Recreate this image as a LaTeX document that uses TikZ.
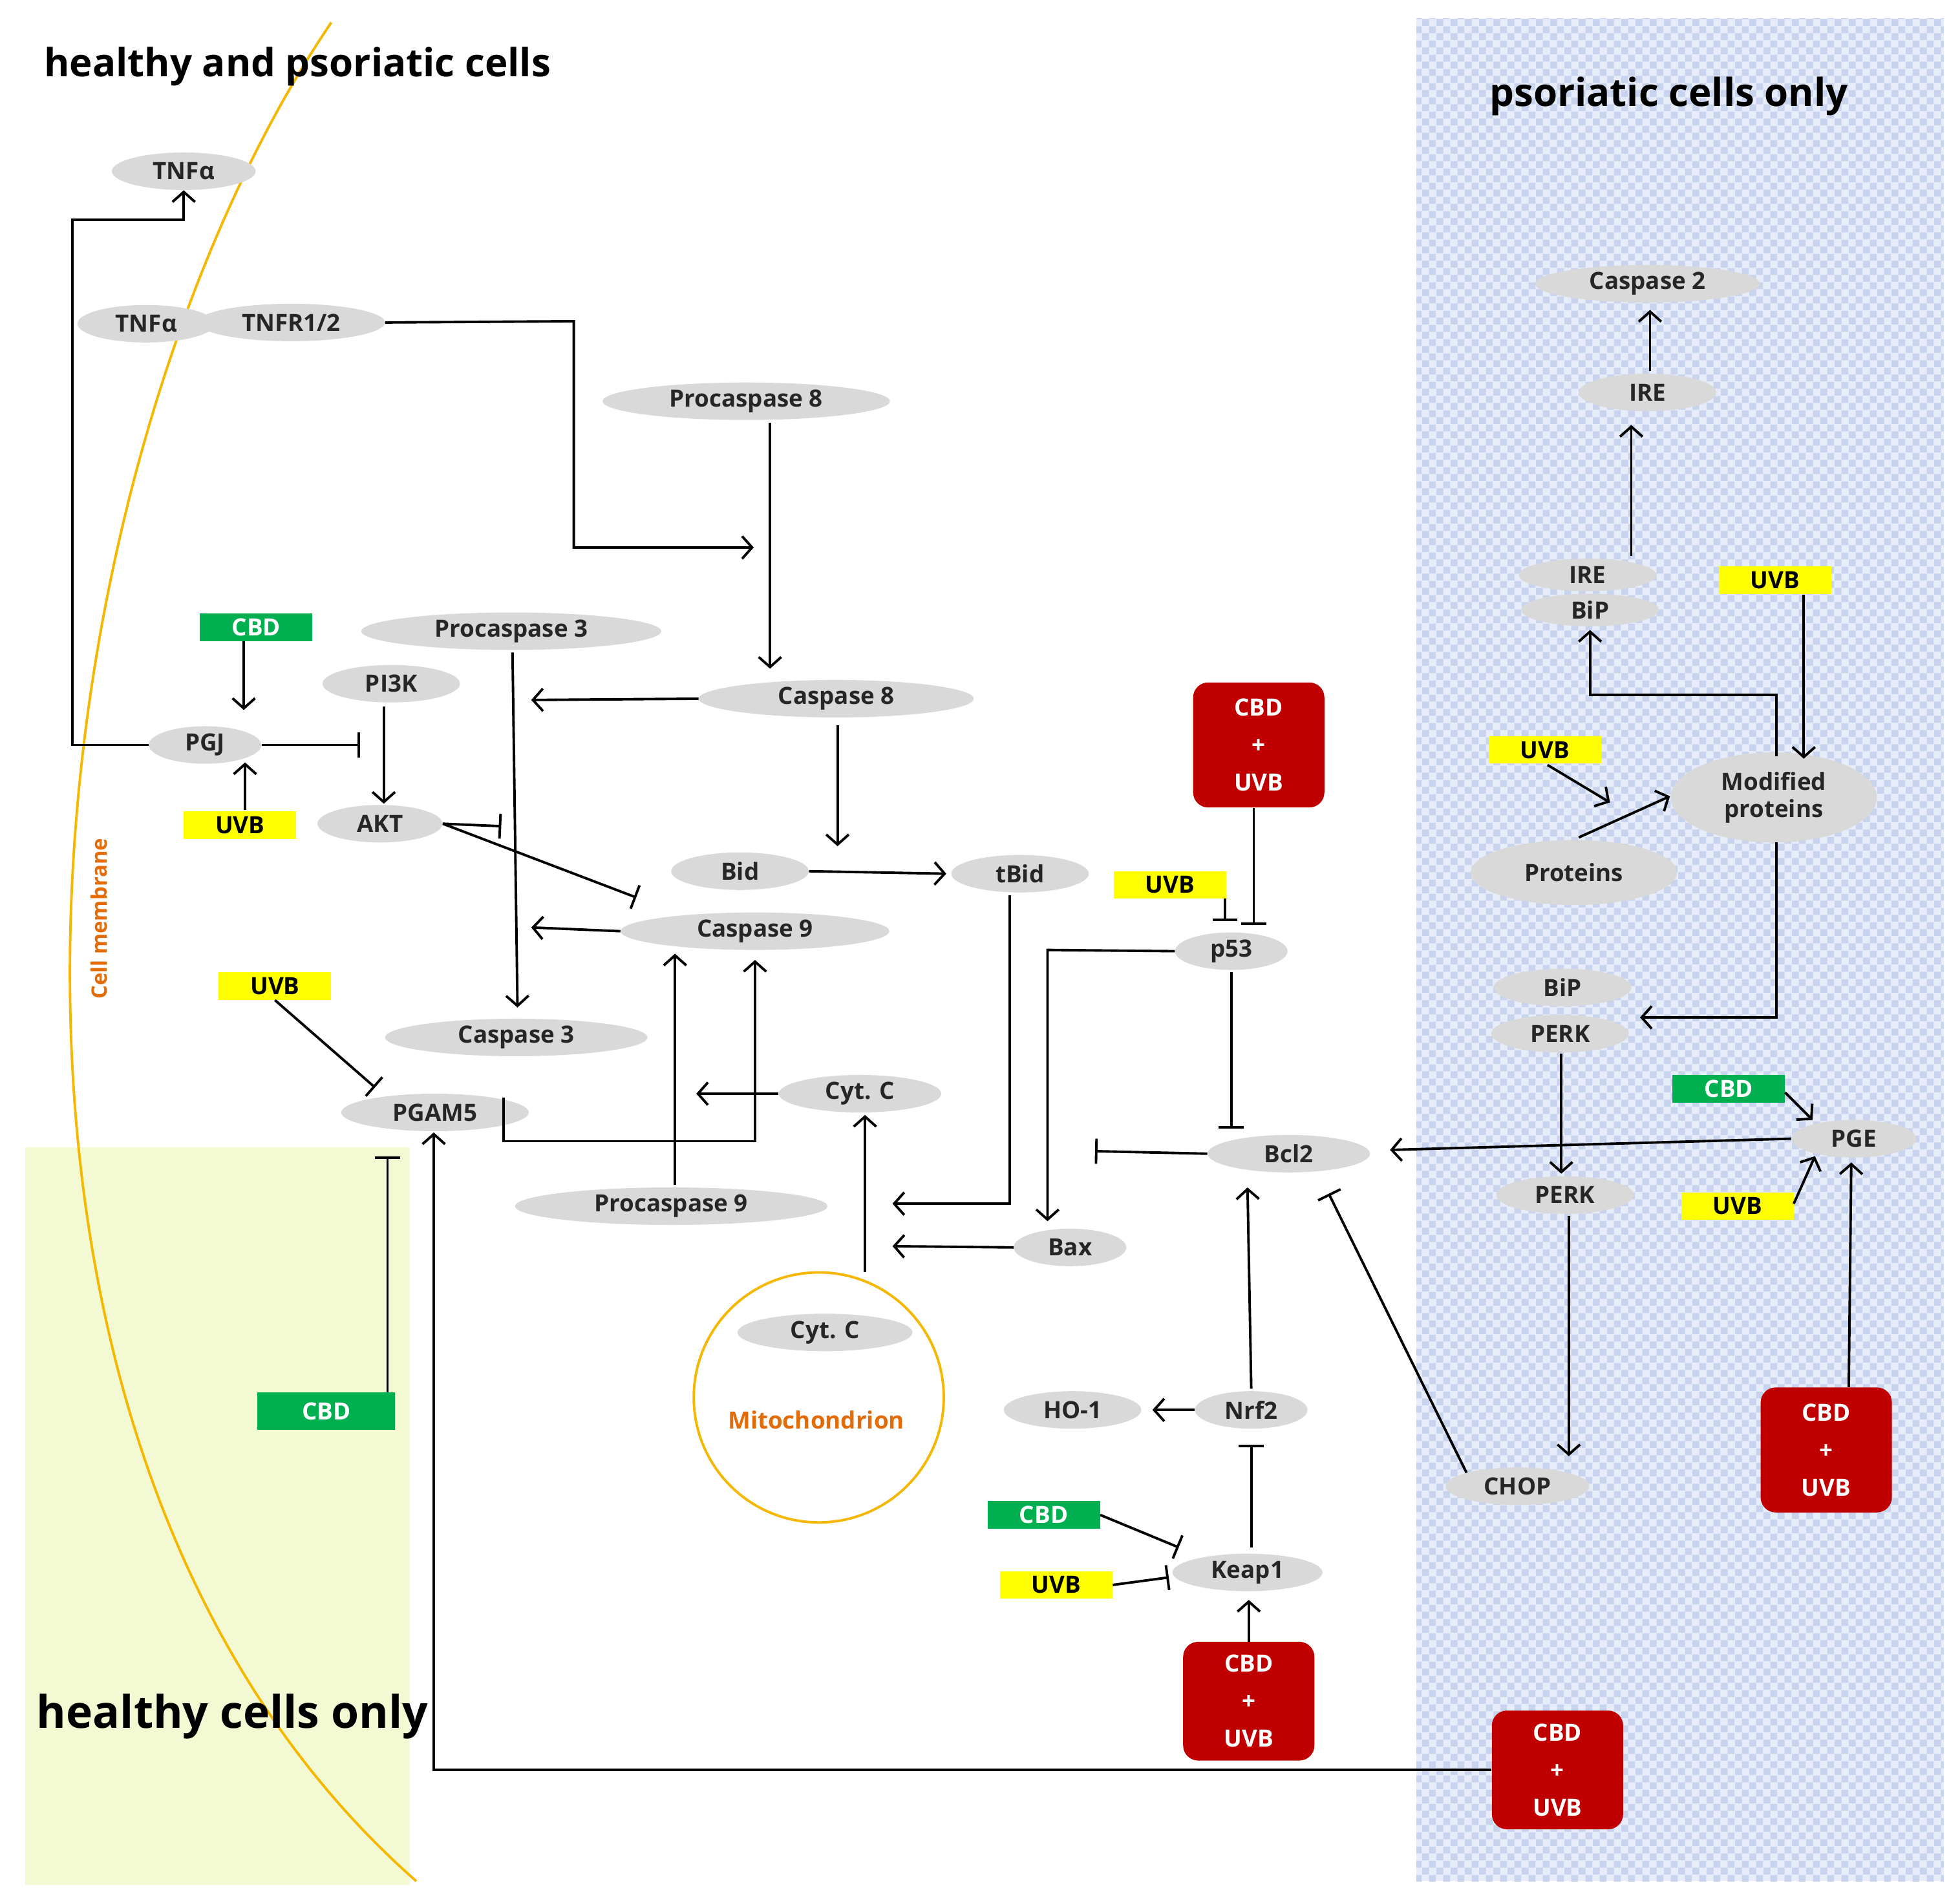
\documentclass[tikz,border=0pt]{standalone}
\usepackage{fontspec}
\setmainfont{Open Sans}
\usetikzlibrary{arrows.meta,shapes.geometric,patterns}
\definecolor{gr}{HTML}{D9D9D9}
\definecolor{rd}{HTML}{C00000}
\definecolor{gn}{HTML}{00B050}
\definecolor{yl}{HTML}{FFFF00}
\definecolor{org}{HTML}{E26B0A}
\definecolor{mem}{HTML}{F5B700}
\definecolor{lb}{HTML}{E6ECF8}
\definecolor{lbd}{HTML}{C8D3EE}
\definecolor{lg}{HTML}{F3F9D2}
\begin{document}
\begin{tikzpicture}[x=1pt,y=-1pt,
 font=\fontsize{19}{22}\selectfont\bfseries,
 el/.style={ellipse,fill=gr,inner sep=0pt,minimum height=30pt,text=black!85},
 red/.style={rounded corners=12pt,fill=rd,text=white,align=center,minimum width=105pt,minimum height=100pt,font=\fontsize{19}{30}\selectfont\bfseries},
 grn/.style={fill=gn,text=white,minimum width=90pt,minimum height=22pt,inner sep=0pt},
 yel/.style={fill=yl,text=black,minimum width=90pt,minimum height=22pt,inner sep=0pt},
 ar/.style={line width=2pt,-{Straight Barb[length=8pt,width=18pt]}},
 br/.style={line width=2pt,-{Bar[width=20pt]}},
 ln/.style={line width=2pt}]
\useasboundingbox (0,0) rectangle (1568,1522);
\fill[white] (0,0) rectangle (1568,1522);
\fill[lb] (1133,15) rectangle (1555,1505);
\fill[pattern=checkerboard,pattern color=lbd] (1133,15) rectangle (1555,1505);
\fill[lg] (20,918) rectangle (328,1508);
\draw[mem,line width=2pt] (265,18) .. controls (20,380) and (-70,1150) .. (333,1505);
\node[rotate=90,text=org,font=\fontsize{17}{20}\selectfont\bfseries] (cm) at (79,735) {Cell membrane};
\node[font=\fontsize{31}{36}\selectfont\bfseries] (t1) at (238,53) {healthy and psoriatic cells};
\node[font=\fontsize{31}{36}\selectfont\bfseries] (t2) at (1335,77) {psoriatic cells only};
\node[font=\fontsize{36}{40}\selectfont\bfseries] (t3) at (186,1373) {healthy cells only};
% nodes
\node[el,minimum width=115pt] (tnfa) at (147,137) {TNFα};
\node[el,minimum width=110pt] (tnfb) at (117,259) {TNFα};
\node[el,minimum width=150pt] (tnfr) at (233,258) {TNFR1/2};
\node[el,minimum width=230pt] (pc8) at (597,321) {Procaspase 8};
\node[el,minimum width=240pt] (pc3) at (409,505) {Procaspase 3};
\node[el,minimum width=110pt] (pi3k) at (313,547) {PI3K};
\node[el,minimum width=220pt] (c8) at (669,559) {Caspase 8};
\node[grn] (cbd1) at (205,502) {CBD};
\node[el,minimum width=90pt] (pgj) at (164,596) {PGJ};
\node[yel] (uvb1) at (192,660) {UVB};
\node[el,minimum width=100pt] (akt) at (304,659) {AKT};
\node[el,minimum width=110pt] (bid) at (592,697) {Bid};
\node[el,minimum width=110pt] (tbid) at (816,699) {tBid};
\node[el,minimum width=215pt] (c9) at (604,745) {Caspase 9};
\node[yel] (uvb2) at (936,708) {UVB};
\node[red] (r1) at (1007,596) {CBD\\+\\UVB};
\node[el,minimum width=90pt] (p53) at (985,761) {p53};
\node[yel] (uvb3) at (220,789) {UVB};
\node[el,minimum width=210pt] (c3) at (413,830) {Caspase 3};
\node[el,minimum width=150pt] (pgam) at (348,890) {PGAM5};
\node[el,minimum width=130pt] (cytc) at (688,875) {Cyt. C};
\node[el,minimum width=250pt] (pc9) at (537,965) {Procaspase 9};
\node[el,minimum width=90pt] (bax) at (856,998) {Bax};
\node[el,minimum width=130pt] (bcl2) at (1031,923) {Bcl2};
\node[circle,draw=mem,line width=2pt,fill=white,minimum size=200pt] (mito) at (655,1118) {};
\node[el,minimum width=140pt] (cytc2) at (660,1066) {Cyt. C};
\node[text=org] (mtxt) at (653,1136) {Mitochondrion};
\node[el,minimum width=110pt] (ho1) at (858,1128) {HO-1};
\node[el,minimum width=90pt] (nrf2) at (1001,1128) {Nrf2};
\node[grn] (cbd2) at (835,1212) {CBD};
\node[yel] (uvb4) at (845,1268) {UVB};
\node[el,minimum width=120pt] (keap) at (998,1258) {Keap1};
\node[red,minimum height=95pt] (r2) at (999,1361) {CBD\\+\\UVB};
\node[grn,minimum width=110pt,minimum height=30pt] (cbd3) at (261,1129) {CBD};
\node[red,minimum height=95pt] (r3) at (1246,1416) {CBD\\+\\UVB};
\node[el,minimum width=180pt] (c2) at (1318,227) {Caspase 2};
\node[el,minimum width=110pt] (ire1) at (1318,314) {IRE};
\node[el,minimum width=110pt,minimum height=26pt] (ire2) at (1270,460) {IRE};
\node[el,minimum width=110pt,minimum height=26pt] (bip1) at (1272,488) {BiP};
\node[yel] (uvb5) at (1420,464) {UVB};
\node[yel] (uvb6) at (1236,600) {UVB};
\node[el,minimum width=165pt,minimum height=72pt,align=center] (mod) at (1419,638) {Modified\\proteins};
\node[el,minimum width=165pt,minimum height=52pt] (prot) at (1259,698) {Proteins};
\node[el,minimum width=110pt,minimum height=30pt] (bip2) at (1250,790) {BiP};
\node[el,minimum width=110pt,minimum height=30pt] (perk1) at (1248,827) {PERK};
\node[grn] (cbd4) at (1383,871) {CBD};
\node[el,minimum width=100pt] (pge) at (1483,911) {PGE};
\node[yel] (uvb7) at (1390,965) {UVB};
\node[el,minimum width=110pt] (perk2) at (1252,956) {PERK};
\node[el,minimum width=115pt] (chop) at (1214,1189) {CHOP};
\node[red] (r4) at (1461,1160) {CBD\\+\\UVB};
% edges
\draw[ar] (pgj.west) -- (58,596) -- (58,176) -- (147,176) -- (tnfa.south);
\draw[ar] (tnfr.east) -- (459,257) -- (459,438) -- (603,438);
\draw[ar] (616,338) -- (616,535);
\draw[ar] (c8.west) -- (425,560);
\draw[ar] (410,522) -- (414,806);
\draw[ar] (670,580) -- (670,677);
\draw[ar] (cbd1.south -| 195,0) -- (195,568);
\draw[ar] (196,648) -- (196,610);
\draw[br] (pgj.east) -- (288,596);
\draw[ar] (307,565) -- (307,643);
\draw[br] (akt.east) -- (401,661);
\draw[br] (akt.east) -- (509,718);
\draw[ar] (bid.east) -- (757,699);
\draw[ar] (c9.west) -- (425,742);
\draw[ar] (808,716) -- (808,963) -- (714,963);
\draw[br] (980,719) -- (980,737);
\draw[br] (r1.south -| 1003,0) -- (1003,740);
\draw[ar] (p53.west) -- (838,760) -- (838,977);
\draw[br] (985,778) -- (985,903);
\draw[br] (uvb3.south) -- (300,870);
\draw[ar] (403,878) -- (403,913) -- (604,913) -- (604,768);
\draw[ar] (540,948) -- (540,763);
\draw[ar] (cytc.west) -- (557,875);
\draw[ar] (692,1018) -- (692,892);
\draw[ar] (bax.west) -- (714,997);
\draw[br] (bcl2.west) -- (876,921);
\draw[ar] (pge.west) -- (1112,920);
\draw[br] (chop.north west) -- (1063,955);
\draw[ar] (1001,1111) -- (998,950);
\draw[ar] (nrf2.west) -- (922,1128);
\draw[br] (1001,1238) -- (1001,1156);
\draw[br] (cbd2.east) -- (943,1238);
\draw[br] (uvb4.east) -- (935,1262);
\draw[ar] (r2.north -| 999,0) -- (999,1280);
\draw[br] (310,1114) -- (310,925);
\draw[ar] (r3.west) -- (347,1416) -- (347,906);
\draw[ar] (1320,297) -- (1320,248);
\draw[ar] (1305,445) -- (1305,340);
\draw[ar] (1421,605) -- (1421,556) -- (1272,556) -- (1272,504);
\draw[ar] (1443,476) -- (1443,607);
\draw[ar] (1238,612) -- (1288,642);
\draw[ar] (1263,670) -- (1336,637);
\draw[ar] (1421,674) -- (1421,814) -- (1312,814);
\draw[ar] (1249,843) -- (1249,939);
\draw[ar] (1255,973) -- (1255,1165);
\draw[ar] (1428,874) -- (1450,896);
\draw[ar] (1435,963) -- (1452,925);
\draw[ar] (r4.north -| 1479,0) -- (1481,930);
\end{tikzpicture}
\end{document}
